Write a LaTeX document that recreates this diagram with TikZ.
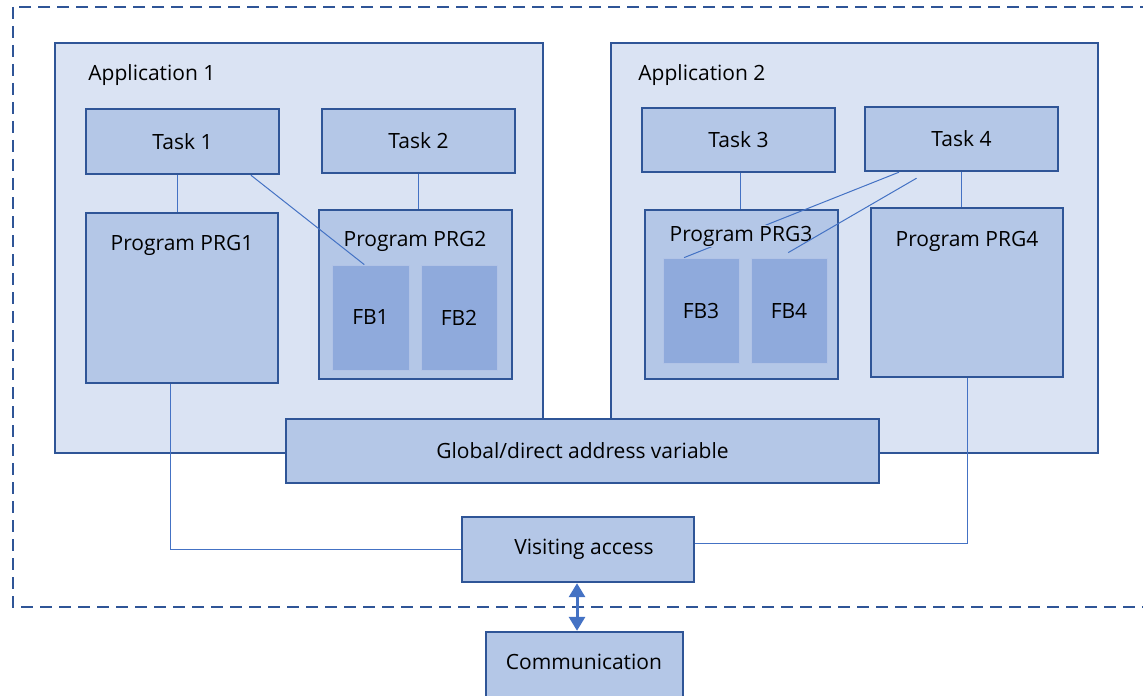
\documentclass[tikz,border=0pt]{standalone}
\usepackage{fontspec}
\setmainfont{Open Sans}
\usetikzlibrary{arrows.meta,fit,calc}
\definecolor{appfill}{HTML}{DAE3F3}
\definecolor{boxfill}{HTML}{B4C7E7}
\definecolor{fbfill}{HTML}{8FAADC}
\definecolor{edge}{HTML}{2F5597}
\definecolor{wire}{HTML}{4472C4}
\begin{document}
\begin{tikzpicture}[x=0.5pt,y=-0.5pt,
  every node/.style={font=\fontsize{10.5}{12}\selectfont},
  app/.style={draw=edge,fill=appfill,line width=1pt,inner sep=0pt},
  blk/.style={draw=edge,fill=boxfill,line width=1.2pt,inner sep=0pt},
  fb/.style={fill=fbfill,draw=fbfill!70!white,line width=0.4pt,inner sep=0pt},
  wire/.style={draw=wire,line width=0.5pt}]

\useasboundingbox (0,0) rectangle (1143,695);

% outer border
\draw[edge,line width=1.2pt,dash pattern=on 6pt off 3.5pt] (13,7) rectangle (1170,607);

% applications
\node[app,fit={(55,43) (543,453)}] (app1) {};
\node[app,fit={(611,43) (1098,453)}] (app2) {};
\node[anchor=west,inner sep=0pt] (app1lbl) at (88,75) {Application 1};
\node[anchor=west,inner sep=0pt] (app2lbl) at (638,75) {Application 2};

% tasks
\node[blk,fit={(86,109) (279,174)},label=center:Task 1] (task1) {};
\node[blk,fit={(322,109) (515,173)},label=center:Task 2] (task2) {};
\node[blk,fit={(642,108) (835,172)},label=center:Task 3] (task3) {};
\node[blk,fit={(865,107) (1058,171)},label=center:Task 4] (task4) {};

% programs
\node[blk,fit={(86,213) (278,383)}] (prg1) {};
\node[blk,fit={(319,210) (512,379)}] (prg2) {};
\node[blk,fit={(645,210) (838,379)}] (prg3) {};
\node[blk,fit={(871,208) (1063,377)}] (prg4) {};
\node (prg1lbl) at (182,245) {Program PRG1};
\node (prg2lbl) at (415,241) {Program PRG2};
\node (prg4lbl) at (967,241) {Program PRG4};

% function blocks
\node[fb,fit={(332,265) (409,370)},label=center:FB1] (fb1) {};
\node[fb,fit={(421,265) (497,370)},label=center:FB2] (fb2) {};
\node[fb,fit={(663,258) (739,363)},label=center:FB3] (fb3) {};
\node[fb,fit={(751,258) (827,363)},label=center:FB4] (fb4) {};

% task -> program
\draw[wire] (task1.south -| 177,0) -- (prg1.north -| 177,0);
\draw[wire] (task2.south) -- (task2.south |- prg2.north);
\draw[wire] (task3.south -| 740,0) -- (prg3.north -| 740,0);
\draw[wire] (task4.south -| 961,0) -- (prg4.north -| 961,0);
\draw[wire] ($(task1.south west)!0.85!(task1.south east)$) -- ($(fb1.north west)!0.42!(fb1.north east)$);
\draw[wire] ($(task4.south west)!0.18!(task4.south east)$) -- ($(fb3.north west)!0.28!(fb3.north east)$);
\node[fill=boxfill,inner sep=0.5pt] (prg3lbl) at (741,236) {Program PRG3};
\draw[wire] ([yshift=-3pt]$(task4.south west)!0.27!(task4.south east)$) -- ([yshift=2.5pt]$(fb4.north west)!0.49!(fb4.north east)$);

% shared blocks
\node[blk,fit={(286,419) (879,483)},label=center:Global/direct address variable] (glob) {};
\node[blk,fit={(462,517) (694,582)},label={[xshift=3pt]center:Visiting access}] (visit) {};
\node[blk,fit={(486,632) (683,720)}] (comm) {};
\node (commlbl) at (584,662) {Communication};

\draw[wire] (prg1.south -| 170,0) |- (visit.west);
\draw[wire] (prg4.south) |- ([yshift=3pt]visit.east);
\draw[wire,line width=1.5pt,{Triangle[width=8pt,length=7pt]}-{Triangle[width=8pt,length=7pt]}]
  (visit.south -| 577,0) -- (comm.north -| 577,0);
\end{tikzpicture}
\end{document}
